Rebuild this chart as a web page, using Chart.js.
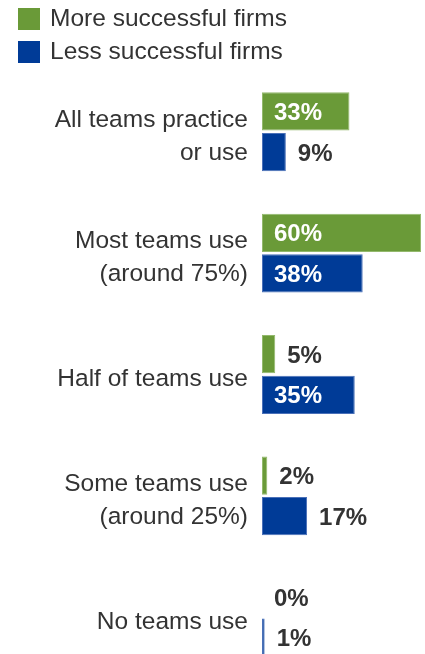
<!DOCTYPE html>
<html>
<head>
<meta charset="utf-8">
<script src="https://cdn.jsdelivr.net/npm/chart.js@4/dist/chart.umd.min.js"></script>
<style>
  html, body { margin: 0; padding: 0; background: #fff; overflow: hidden; }
  #wrap { position: relative; width: 425px; height: 690px; }
  .legend { position: absolute; left: 18px; font-family: "Liberation Sans", Arial, sans-serif; font-size: 24.5px; color: #333; line-height: 28px; }
  .legend span { display: inline-block; width: 22px; height: 22px; vertical-align: -4px; margin-right: 10px; }
</style>
</head>
<body>
<div id="wrap">
  <canvas id="barChart"></canvas>
  <div class="legend" style="top:4px"><span style="background:#6a9a38"></span>More successful firms</div>
  <div class="legend" style="top:37px"><span style="background:#003b97"></span>Less successful firms</div>
</div>
<script>
const categories = [
  ['All teams practice', 'or use'],
  ['Most teams use', '(around 75%)'],
  'Half of teams use',
  ['Some teams use', '(around 25%)'],
  'No teams use'
];
const moreSuccessful = [33, 60, 5, 2, 0];
const lessSuccessful = [9, 38, 35, 17, 1];
const seriesNames = ['More successful firms', 'Less successful firms'];

const ctx = document.getElementById('barChart').getContext('2d');

// draws the % labels, white inside long bars, dark beside short ones
const valueLabels = {
  id: 'valueLabels',
  afterDatasetsDraw(chart) {
    const c = chart.ctx;
    c.save();
    c.font = 'bold 24px "Liberation Sans", Arial, sans-serif';
    c.textBaseline = 'middle';
    c.textAlign = 'left';
    chart.data.datasets.forEach((ds, i) => {
      chart.getDatasetMeta(i).data.forEach((bar, j) => {
        const v = ds.data[j];
        if (v >= 30) {
          c.fillStyle = '#fff';
          c.fillText(v + '%', bar.base + 12, bar.y + 2);
        } else {
          c.fillStyle = '#333';
          c.fillText(v + '%', bar.x + 12, bar.y + 2);
        }
      });
    });
    c.restore();
  }
};

const myChart = new Chart(ctx, {
  type: 'bar',
  data: {
    labels: categories,
    datasets: [{
      label: seriesNames[0],
      data: moreSuccessful,
      backgroundColor: '#6a9a38',
      borderColor: '#93b96c',
      borderWidth: 1,
      borderSkipped: false
    }, {
      label: seriesNames[1],
      data: lessSuccessful,
      backgroundColor: '#003b97',
      borderColor: '#4a70b8',
      borderWidth: 1,
      borderSkipped: false
    }]
  },
  options: {
    indexAxis: 'y',
    responsive: true,
    maintainAspectRatio: false,
    animation: false,
    categoryPercentage: 0.67,
    barPercentage: 0.94,
    // canvas is taller than the window: last group gets cut off like the original
    layout: { padding: { top: 71, bottom: 12, right: 4, left: 0 } },
    plugins: {
      legend: { display: false },
      tooltip: { enabled: false }
    },
    scales: {
      x: { display: false, min: 0, max: 60 },
      y: {
        grid: { display: false, drawTicks: false },
        border: { display: false },
        ticks: {
          padding: 14,
          labelOffset: 5,
          color: '#333',
          font: { family: '"Liberation Sans", Arial, sans-serif', size: 24.5, lineHeight: 1.35 }
        },
        afterFit(scale) {
          scale.width = 262;
          scale.paddingTop = 0;
          scale.paddingBottom = 0;
        }
      }
    }
  },
  plugins: [valueLabels]
});
</script>
</body>
</html>
